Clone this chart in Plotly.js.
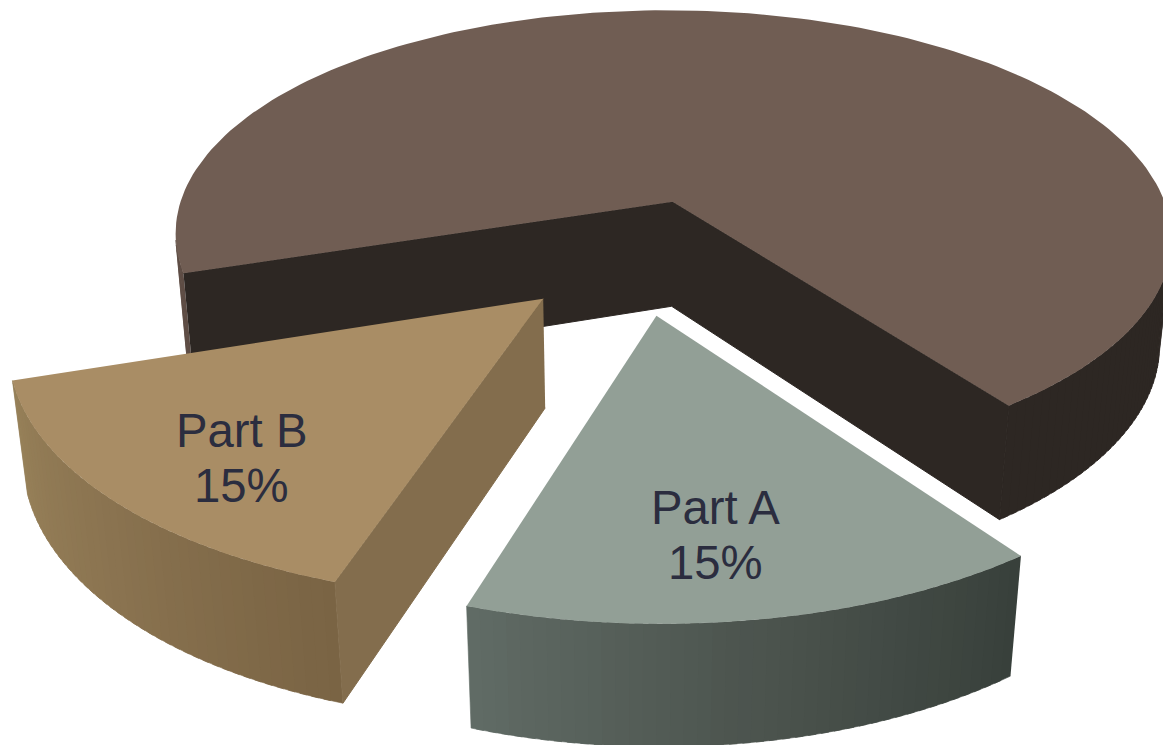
<!DOCTYPE html>
<html>
<head>
<meta charset="utf-8">
<script src="https://cdn.plot.ly/plotly-3.0.1.min.js"></script>
<style>html,body{margin:0;padding:0;background:#fff;overflow:hidden}#chart{width:1163px;height:745px}</style>
</head>
<body>
<div id="chart"></div>
<script>
// Slice data: share of the whole, in drawing order (back to front).
const sliceNames = ['', 'Part B', 'Part A'];
const sliceShares = [70, 15, 15];
const topColors = ['#705d53', '#a98d65', '#929f96'];
const cutColors = ['#2d2723', '#836d4d', '#3c433e'];
// Outer wall shading: [fraction of the sweep, colour].
const wallStops = [
  [[0, '#5e4d45'], [0.1, '#5e4d45'], [0.16, '#2d2723'], [1, '#2d2723']],
  [[0, '#7a6444'], [0.5, '#8a7350'], [1, '#978159']],
  [[0, '#38403b'], [0.55, '#4e5650'], [1, '#616c66']]
];
// Pull-out distance of each slice and the turn of its direction away from the bisector.
const explodeBy = [0.28, 0.22, 0.218];
const explodeTurn = [0, 3.7, -4.2];
// Label anchor inside each slice: [angle in degrees, radius].
const labelAnchors = [null, [131.3, 0.764], [83, 0.753]];

// Pie sweep runs clockwise on screen; Part A starts here.
const FIRST_ANGLE = 54;
// Perspective camera constants.
const CX = 630, CY = 263, F = 513, G = 240, P = 0.16, Q = 0.023, D = 110;

const rad = d => d * Math.PI / 180;
function project(X, Y, z) {
  const w = 1 - P * Y + Q * z;
  return [CX + F * X / w, CY + (G * Y + D * z) / w];
}

// Work out each slice's angular span from its share.
const spans = {};
(function () {
  let a = FIRST_ANGLE;
  [2, 1, 0].forEach(i => {
    const sweep = sliceShares[i] * 3.6;
    spans[i] = [a, a + sweep];
    a += sweep;
  });
})();

function mix(c1, c2, t) {
  const p = c => [1, 3, 5].map(k => parseInt(c.substr(k, 2), 16));
  const a = p(c1), b = p(c2);
  return 'rgb(' + a.map((v, i) => Math.round(v + (b[i] - v) * t)).join(',') + ')';
}
function wallColor(stops, t) {
  for (let i = 1; i < stops.length; i++) {
    if (t <= stops[i][0]) {
      const s = stops[i - 1], e = stops[i];
      return mix(s[1], e[1], (t - s[0]) / (e[0] - s[0] || 1));
    }
  }
  return stops[stops.length - 1][1];
}
// Signed area of a corner on screen; its sign tells which way a face is turned.
function turn(a, b, c) {
  return (b[0] - a[0]) * (c[1] - b[1]) - (b[1] - a[1]) * (c[0] - b[0]);
}

const traces = [];
// A thin outline in the fill colour closes the seams between neighbouring faces.
function polygon(points, color, outline) {
  traces.push({
    type: 'scatter', mode: 'lines', hoverinfo: 'skip', showlegend: false,
    x: points.map(p => p[0]), y: points.map(p => p[1]),
    fill: 'toself', fillcolor: color, line: {width: outline, color: color}
  });
}

const annotations = [];
sliceShares.forEach((share, i) => {
  const [a0, a1] = spans[i];
  const dir = rad((a0 + a1) / 2 + explodeTurn[i]);
  const ox = explodeBy[i] * Math.cos(dir), oy = explodeBy[i] * Math.sin(dir);
  const rim = (deg, z) => project(ox + Math.cos(rad(deg)), oy + Math.sin(rad(deg)), z);
  const hub = z => project(ox, oy, z);

  // Rim wall first (only the strips turned towards the camera), cut faces next, the top last.
  const steps = Math.max(24, Math.round((a1 - a0) * 0.8));
  for (let s = 0; s < steps; s++) {
    const u = a0 + (a1 - a0) * s / steps;
    const v = a0 + (a1 - a0) * Math.min(s + 1.6, steps) / steps;
    if (turn(rim(u, 0), rim(v, 0), rim(v, 1)) < 0) {
      polygon([rim(u, 0), rim(v, 0), rim(v, 1), rim(u, 1)], wallColor(wallStops[i], s / steps), 0.6);
    }
  }
  const showStart = turn(hub(0), rim(a0, 0), rim(a0, 1)) < 0;
  const showEnd = turn(hub(0), rim(a1, 0), rim(a1, 1)) > 0;
  if (showStart && showEnd) {
    polygon([rim(a0, 0), hub(0), rim(a1, 0), rim(a1, 1), hub(1), rim(a0, 1)], cutColors[i], 1);
  } else if (showStart) {
    polygon([hub(0), rim(a0, 0), rim(a0, 1), hub(1)], cutColors[i], 1);
  } else if (showEnd) {
    polygon([hub(0), rim(a1, 0), rim(a1, 1), hub(1)], cutColors[i], 1);
  }

  const top = [hub(0)];
  for (let s = 0; s <= 180; s++) top.push(rim(a0 + (a1 - a0) * s / 180, 0));
  polygon(top, topColors[i], 0);

  if (labelAnchors[i]) {
    const [ang, r] = labelAnchors[i];
    const pos = project(ox + r * Math.cos(rad(ang)), oy + r * Math.sin(rad(ang)), 0);
    [[sliceNames[i], 27.5], [share + '%', -27.5]].forEach(([text, shift]) => {
      annotations.push({
        x: pos[0], y: pos[1], xref: 'x', yref: 'y', text: text, showarrow: false,
        yshift: shift, xanchor: 'center', yanchor: 'middle',
        font: {family: '"Liberation Sans", Arial, sans-serif', size: 47.3, color: '#2b2d3f'}
      });
    });
  }
});

Plotly.newPlot('chart', traces, {
  width: 1163, height: 745,
  margin: {l: 0, r: 0, t: 0, b: 0},
  paper_bgcolor: '#ffffff', plot_bgcolor: '#ffffff',
  showlegend: false,
  xaxis: {range: [0, 1163], visible: false, fixedrange: true},
  yaxis: {range: [745, 0], visible: false, fixedrange: true},
  annotations: annotations
}, {staticPlot: true, displayModeBar: false});
</script>
</body>
</html>
